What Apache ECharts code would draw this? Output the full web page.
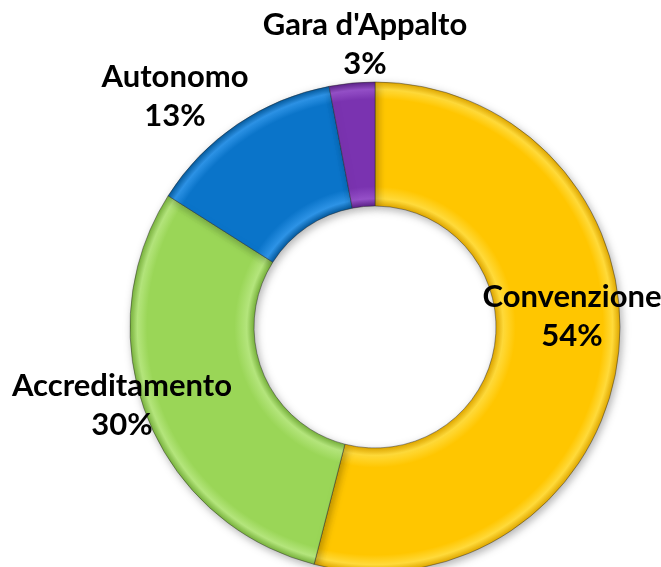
<!DOCTYPE html>
<html>
<head>
<meta charset="utf-8">
<style>
  html, body { margin: 0; padding: 0; background: #fff; }
  #chart { width: 661px; height: 567px; }
</style>
<script src="https://cdn.jsdelivr.net/npm/echarts@6/dist/echarts.min.js"></script>
</head>
<body>
<div id="chart"></div>
<script>
// dati del grafico
const categories = ['Convenzione', 'Accreditamento', 'Autonomo', "Gara d'Appalto"];
const values = [54, 30, 13, 3];
const percentLabels = ['54%', '30%', '13%', '3%'];

// colori base delle fette
const baseColors = ['#FFC600', '#9AD657', '#0A74C9', '#7A33B0'];
const lightColors = ['#FFDA3A', '#B4E57C', '#2D93E6', '#9550C8'];
const darkColors = ['#E0A800', '#78B23C', '#055A9E', '#5C2288'];

// posizione dei testi (centro del blocco)
const labelPos = [[572, 316], [122, 405], [175, 96], [365, 44]];

const cx = 375, cy = 327, rIn = 121, rOut = 245;

function sliceColor(i) {
  // sfumatura radiale per simulare il rilievo
  return {
    type: 'radial', x: cx, y: cy, r: rOut, global: true,
    colorStops: [
      { offset: 0, color: baseColors[i] },
      { offset: rIn / rOut, color: darkColors[i] },
      { offset: rIn / rOut + 0.03, color: lightColors[i] },
      { offset: rIn / rOut + 0.08, color: baseColors[i] },
      { offset: 0.93, color: baseColors[i] },
      { offset: 0.97, color: lightColors[i] },
      { offset: 1, color: darkColors[i] }
    ]
  };
}

const data = categories.map((name, i) => ({
  name: name,
  value: values[i],
  itemStyle: { color: sliceColor(i) }
}));

const chart = echarts.init(document.getElementById('chart'));
chart.setOption({
  animation: false,
  series: [{
    type: 'pie',
    center: [cx, cy],
    radius: [rIn, rOut],
    startAngle: 90,
    clockwise: true,
    data: data,
    itemStyle: {
      borderColor: 'rgba(40,40,40,0.45)',
      borderWidth: 1,
      shadowBlur: 8,
      shadowOffsetX: 2,
      shadowOffsetY: 3,
      shadowColor: 'rgba(0,0,0,0.3)'
    },
    label: {
      show: true,
      position: 'outside',
      alignTo: 'none',
      overflow: 'none',
      formatter: p => p.name + '\n' + percentLabels[p.dataIndex],
      fontFamily: 'Lato',
      fontWeight: 'bold',
      fontSize: 31,
      lineHeight: 39,
      color: '#000',
      align: 'center'
    },
    labelLine: { show: false },
    labelLayout: function (params) {
      const p = labelPos[params.dataIndex];
      return { x: p[0], y: p[1], align: 'center', verticalAlign: 'middle', hideOverlap: false, moveOverlap: false };
    }
  }]
});
</script>
</body>
</html>
